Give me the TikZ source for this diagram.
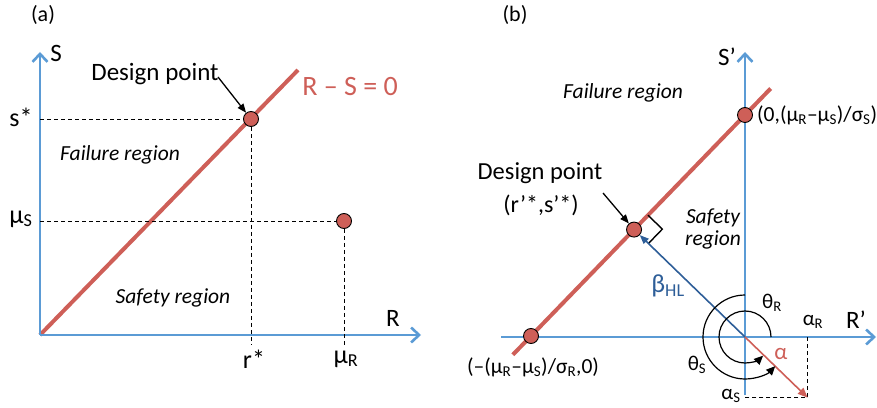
\documentclass[tikz,border=0pt]{standalone}
\usepackage{fontspec}
\setmainfont{Carlito}
\usetikzlibrary{arrows.meta,calc}
\definecolor{axblue}{RGB}{91,155,213}
\definecolor{lred}{RGB}{206,95,88}
\definecolor{dblue}{RGB}{46,94,152}
\newcommand{\fs}[1]{\fontsize{#1}{#1}\selectfont}
\begin{document}
\begin{tikzpicture}[x=1pt,y=1pt,
  axis/.style={axblue,line width=2.6pt,-{Straight Barb[length=8pt,width=15pt,line width=2.6pt]}},
  limit/.style={lred,line width=4pt},
  dot/.style={circle,fill=lred,draw=black,line width=0.9pt,inner sep=0pt,minimum size=15pt},
  guide/.style={black,dashed,line width=0.9pt,dash pattern=on 4pt off 3pt},
  ptr/.style={black,line width=1.3pt,-{Triangle[length=9pt,width=7pt]}},
  lab/.style={inner sep=0pt,font=\fs{26}},
  labb/.style={inner sep=0pt,font=\fs{21}},
  reg/.style={inner sep=0pt,font=\fs{21.5}\itshape},
  ang/.style={black,line width=1.2pt,-{Triangle[length=9pt,width=8pt]}}
]
\useasboundingbox (0,0) rectangle (877,407);

% ---------------- panel (a) ----------------
\node[inner sep=0pt,font=\fs{22}] (ta) at (43,392) {(a)};
\coordinate (Oa) at (40,72);
\coordinate (Sa) at (40,355);
\coordinate (Ra) at (421,72);
\coordinate (La) at (298,337);
\draw[limit] (Oa) -- (La);
\draw[axis] (Oa) -- (Sa);
\draw[axis] (Oa) -- (Ra);
\node[inner sep=0pt,font=\fs{25}] (Sal) at (56,354) {S};
\node[inner sep=0pt,font=\fs{25}] (Ral) at (393,89) {R};
\node[dot] (Da) at (251,288) {};
\node[dot] (Ma) at (344,186) {};
\coordinate (DaL) at (40,288);
\coordinate (DaB) at (251,62);
\coordinate (MaL) at (40,186);
\coordinate (MaB) at (344,62);
\draw[guide] (DaL) -- (Da.west);
\draw[guide] (Da.south) -- (DaB);
\draw[guide] (MaL) -- (Ma.west);
\draw[guide] (Ma.south) -- (MaB);
\node[lab] (ss) at (21,290) {s*};
\node[lab] (mus) at (21,188) {μ\textsubscript{S}};
\node[lab] (rs) at (254,48) {r*};
\node[lab] (mur) at (346,48) {μ\textsubscript{R}};
\node[inner sep=0pt,font=\fs{25}] (dpa) at (155,333) {Design point};
\coordinate (dpaA) at (218,330);
\draw[ptr] (dpaA) -- (Da);
\node[inner sep=0pt,font=\fs{28},text=lred] (lsa) at (350,320) {R – S = 0};
\node[reg] (fra) at (120,252) {Failure region};
\node[reg] (sra) at (173,109) {Safety region};

% ---------------- panel (b) ----------------
\node[inner sep=0pt,font=\fs{22}] (tb) at (515,392) {(b)};
\coordinate (Ob) at (745,70);
\coordinate (Sb0) at (745,12);
\coordinate (Sb) at (745,355);
\coordinate (Rb0) at (501,70);
\coordinate (Rb) at (876,70);
\coordinate (P1) at (531,71);
\coordinate (P2) at (745,292);
\coordinate (Lb1) at ($(P1)!-0.085!(P2)$);
\coordinate (Lb2) at ($(P1)!1.12!(P2)$);
\coordinate (Dbc) at ($(P1)!(Ob)!(P2)$);
\draw[limit] (Lb1) -- (Lb2);
\draw[axis] (Sb0) -- (Sb);
\draw[axis] (Rb0) -- (Rb);
\node[font=\fs{25},inner sep=0pt] (Sbl) at (727,350) {S’};
\node[font=\fs{25},inner sep=0pt] (Rbl) at (856,87) {R’};
\node[dot] (Q1) at (P1) {};
\node[dot] (Q2) at (P2) {};
\node[dot] (Db) at (Dbc) {};
% right angle marker
\coordinate (rmA) at ($(Dbc)!20pt!(P2)$);
\coordinate (rmC) at ($(Dbc)!20pt!(Ob)$);
\coordinate (rmB) at ($(rmA)+(rmC)-(Dbc)$);
\draw[black,line width=1.4pt] (rmA) -- (rmB) -- (rmC);
% beta arrow
\draw[dblue,line width=1.6pt,-{Triangle[length=9pt,width=7pt]}] (Ob) -- (Db);
\node[inner sep=0pt,font=\fs{26},text=dblue] (bhl) at (668,121) {β\textsubscript{HL}};
% alpha arrow
\coordinate (At) at ($(Ob)!-0.565!(Dbc)$);
\coordinate (AtR) at (At |- Ob);
\coordinate (AtS) at (Ob |- At);
\draw[guide] (AtR) -- (At) -- (AtS);
\draw[lred,line width=1.6pt,-{Triangle[length=10pt,width=8pt]}] (Ob) -- (At);
\node[inner sep=0pt,font=\fs{23},text=lred] (al) at (781,53) {α};
\node[labb] (aR) at (813,85) {α\textsubscript{R}};
\node[labb] (aS) at (731,11) {α\textsubscript{S}};
% angle arcs
\draw[ang] ($(Ob)+(0:26)$) arc[start angle=0,end angle=314,radius=26];
\draw[ang] ($(Ob)+(90:42)$) arc[start angle=90,end angle=316,radius=42];
\node[labb] (tR) at (772,104) {θ\textsubscript{R}};
\node[labb] (tS) at (697,42) {θ\textsubscript{S}};
% labels
\node[inner sep=0pt,font=\fs{21.5},anchor=west] (l0) at (757,292) {(0,(μ\textsubscript{R}–μ\textsubscript{S})/σ\textsubscript{S})};
\node[inner sep=0pt,font=\fs{21.5}] (l1) at (533,40) {(–(μ\textsubscript{R}–μ\textsubscript{S})/σ\textsubscript{R},0)};
\node[inner sep=0pt,font=\fs{24.5}] (dpb) at (540,234) {Design point};
\node[inner sep=0pt,font=\fs{24}] (dpb2) at (541,202) {(r’*,s’*)};
\coordinate (dpbA) at (603,214);
\draw[ptr] (dpbA) -- (Db);
\node[reg] (frb) at (623,314) {Failure region};
\node[reg,align=center] (srb) at (713,178) {Safety\\region};
\end{tikzpicture}
\end{document}
